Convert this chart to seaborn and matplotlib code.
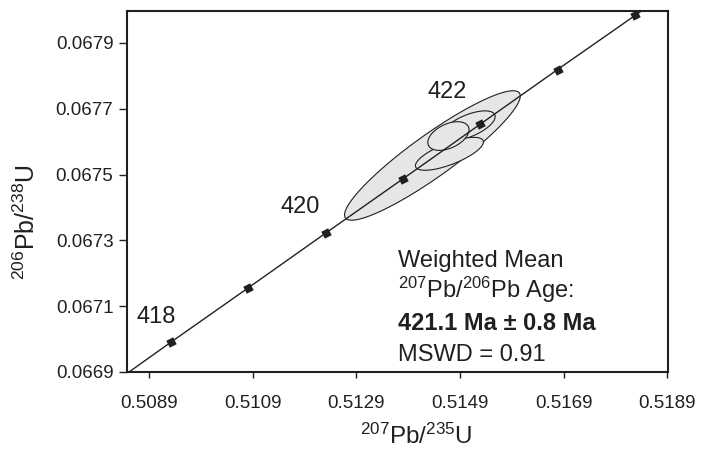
import numpy as np
import pandas as pd
import matplotlib.pyplot as plt
import seaborn as sns

# concordia points (age in Ma)
ages = [417, 418, 419, 420, 421, 422, 423, 424, 425]
pb207_u235 = [0.50785, 0.50933, 0.51082, 0.51231, 0.51380, 0.51529, 0.51678, 0.51828, 0.51977]
pb206_u238 = [0.066825, 0.066991, 0.067156, 0.067322, 0.067487, 0.067653, 0.067819, 0.067984, 0.068150]
marked_ages = [418, 419, 420, 421, 422, 423, 424]
labelled_ages = [418, 420, 422]
label_offsets = [(-11, 18), (-18, 18.5), (-24, 23)]

# error ellipses: x, sx, y, sy, rho (big one first)
ell_x = [0.514368, 0.515063, 0.514696, 0.514677]
ell_sx = [0.001694, 0.000515, 0.000655, 0.000397]
ell_y = [0.067558, 0.067648, 0.067563, 0.067617]
ell_sy = [0.0001967, 0.0000455, 0.0000500, 0.0000435]
ell_rho = [0.9185, 0.62, 0.72, 0.442]

x_ticks = [0.5089, 0.5109, 0.5129, 0.5149, 0.5169, 0.5189]
y_ticks = [0.0669, 0.0671, 0.0673, 0.0675, 0.0677, 0.0679]

info_lines = ['Weighted Mean', r'$\mathregular{^{207}}$Pb/$\mathregular{^{206}}$Pb Age:',
              '421.1 Ma ± 0.8 Ma', 'MSWD = 0.91']
info_weights = ['normal', 'normal', 'bold', 'normal']

ink = '#231f20'
fill = '#e6e6e6'

df = pd.DataFrame({'age': ages, 'x': pb207_u235, 'y': pb206_u238})
pts = df[df['age'].isin(marked_ages)]

sns.set_style('ticks')
plt.rcParams['font.family'] = ['Liberation Sans', 'DejaVu Sans']
plt.rcParams['mathtext.fontset'] = 'custom'
plt.rcParams['mathtext.rm'] = 'Liberation Sans'

fig = plt.figure(figsize=(7.05, 4.51), dpi=100)
ax = fig.add_axes([127 / 705, 79 / 451, 541 / 705, 361 / 451])

# ellipses
t = np.linspace(0, 2 * np.pi, 300)
for i in range(len(ell_x)):
    cov = np.array([[ell_sx[i] ** 2, ell_rho[i] * ell_sx[i] * ell_sy[i]],
                    [ell_rho[i] * ell_sx[i] * ell_sy[i], ell_sy[i] ** 2]])
    L = np.linalg.cholesky(cov)
    xy = L @ np.vstack([np.cos(t), np.sin(t)])
    ax.fill(ell_x[i] + xy[0], ell_y[i] + xy[1], facecolor=fill,
            edgecolor=ink, linewidth=0.8, zorder=2 + i)

sns.lineplot(data=df, x='x', y='y', sort=False, color=ink, linewidth=1.0, ax=ax, zorder=10)
sns.scatterplot(data=pts, x='x', y='y', marker=(4, 0, 72), s=62, color=ink,
                linewidth=0, ax=ax, zorder=11)

for age, off in zip(labelled_ages, label_offsets):
    row = df[df['age'] == age].iloc[0]
    ax.annotate(str(age), (row['x'], row['y']), xytext=off, textcoords='offset points',
                ha='center', va='center', fontsize=17, color=ink)

for k, (line, w) in enumerate(zip(info_lines, info_weights)):
    ax.text(0.501, 0.292 - k * 0.0875, line, transform=ax.transAxes, fontsize=17,
            fontweight=w, color=ink, ha='left', va='baseline')

ax.set_xlim(0.50848, 0.51891)
ax.set_ylim(0.0669, 0.067997)
ax.set_xticks(x_ticks)
ax.set_xticklabels([f'{v:.4f}' for v in x_ticks])
ax.set_yticks(y_ticks)
ax.set_yticklabels([f'{v:.4f}' for v in y_ticks])
ax.tick_params(axis='x', direction='out', length=4.3, width=1, pad=12, labelsize=13.5, colors=ink)
ax.tick_params(axis='y', direction='out', length=5.8, width=1, pad=4, labelsize=13.5, colors=ink)
for sp in ax.spines.values():
    sp.set_visible(True)
    sp.set_linewidth(1.5)
    sp.set_color(ink)

ax.set_xlabel(r'$\mathregular{^{207}}$Pb/$\mathregular{^{235}}$U', fontsize=17.5, color=ink)
ax.set_ylabel(r'$\mathregular{^{206}}$Pb/$\mathregular{^{238}}$U', fontsize=18, color=ink)
ax.xaxis.set_label_coords(0.534, -0.143)
ax.yaxis.set_label_coords(-0.161, 0.415)

fig.savefig('out.png', dpi=100)
